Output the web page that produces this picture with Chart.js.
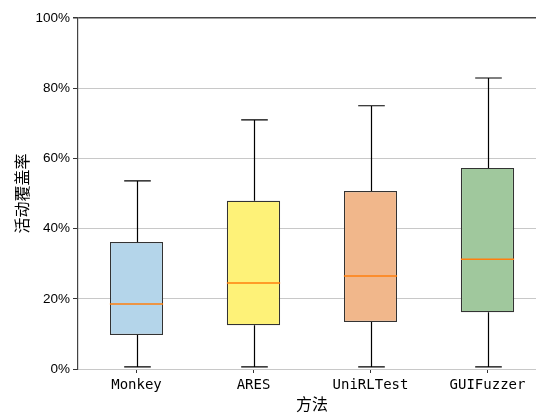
<!DOCTYPE html>
<html lang="zh">
    <head>
        <meta charset="UTF-8" />
        <title>活动覆盖率</title>
        <script src="https://cdn.jsdelivr.net/npm/chart.js"></script>
        <style>
            html, body { margin: 0; padding: 0; background: #fff; overflow: hidden; }
            #wrap { width: 548px; height: 414px; }
        </style>
    </head>
    <body>
        <div id="wrap"><canvas id="boxChart" width="548" height="414"></canvas></div>
        <script>
            // box plot values (percent)
            const methods = ["Monkey", "ARES", "UniRLTest", "GUIFuzzer"];
            const whiskerLow = [0.6, 0.6, 0.6, 0.6];
            const q1 = [9.7, 12.5, 13.4, 16.2];
            const medians = [18.5, 24.5, 26.5, 31.3];
            const q3 = [36.2, 47.9, 50.7, 57.3];
            const whiskerHigh = [53.6, 71.0, 75.0, 82.9];
            const yTicks = [0, 20, 40, 60, 80, 100];
            const boxColors = ["#b4d5ea", "#fef278", "#f1b78b", "#a0c89d"];

            // whiskers, caps and medians drawn on top of the floating bars
            const boxExtras = {
                id: "boxExtras",
                afterDatasetsDraw(chart) {
                    const ctx = chart.ctx;
                    const y = chart.scales.y;
                    const meta = chart.getDatasetMeta(0);
                    meta.data.forEach((bar, i) => {
                        const x = Math.round(bar.x) + 0.5;
                        const half = bar.width / 2;
                        const cap = bar.width / 4;
                        ctx.save();
                        ctx.strokeStyle = "#000";
                        ctx.lineWidth = 1.2;
                        ctx.beginPath();
                        ctx.moveTo(x, y.getPixelForValue(q3[i]));
                        ctx.lineTo(x, y.getPixelForValue(whiskerHigh[i]));
                        ctx.moveTo(x, y.getPixelForValue(q1[i]));
                        ctx.lineTo(x, y.getPixelForValue(whiskerLow[i]));
                        ctx.moveTo(x - cap, y.getPixelForValue(whiskerHigh[i]));
                        ctx.lineTo(x + cap, y.getPixelForValue(whiskerHigh[i]));
                        ctx.moveTo(x - cap, y.getPixelForValue(whiskerLow[i]));
                        ctx.lineTo(x + cap, y.getPixelForValue(whiskerLow[i]));
                        ctx.stroke();
                        ctx.strokeStyle = "#ff7f0e";
                        ctx.lineWidth = 1.5;
                        ctx.beginPath();
                        ctx.moveTo(bar.x - half, y.getPixelForValue(medians[i]));
                        ctx.lineTo(bar.x + half, y.getPixelForValue(medians[i]));
                        ctx.stroke();
                        ctx.restore();
                    });
                },
            };

            new Chart(document.getElementById("boxChart"), {
                type: "bar",
                data: {
                    labels: methods,
                    datasets: [
                        {
                            data: methods.map((m, i) => [q1[i], q3[i]]),
                            backgroundColor: boxColors,
                            borderColor: "#333",
                            borderWidth: 1.2,
                            borderSkipped: false,
                            categoryPercentage: 1,
                            barPercentage: 0.455,
                        },
                    ],
                },
                options: {
                    responsive: false,
                    animation: false,
                    layout: { padding: { left: 0, top: 18, right: 2, bottom: 0 } },
                    plugins: { legend: { display: false }, tooltip: { enabled: false } },
                    scales: {
                        x: {
                            grid: { display: true, drawOnChartArea: false, offset: false, tickLength: 4, tickColor: "#333" },
                            border: { display: false },
                            ticks: {
                                color: "#000",
                                padding: 4,
                                font: { family: "'DejaVu Sans Mono', monospace", size: 14 },
                            },
                            title: {
                                display: true,
                                text: "方法",
                                color: "#000",
                                padding: 0,
                                font: { family: "'Noto Sans CJK SC', sans-serif", size: 16 },
                            },
                            afterFit(scale) { scale.height = 45; },
                        },
                        y: {
                            min: 0,
                            max: 100,
                            afterBuildTicks(scale) { scale.ticks = yTicks.map((v) => ({ value: v })); },
                            grid: {
                                color: (c) => (c.tick && c.tick.value === 100 ? "#444" : "#c8c8c8"),
                                lineWidth: (c) => (c.tick && c.tick.value === 100 ? 1.5 : 1),
                                tickLength: 5,
                                tickColor: "#333",
                            },
                            border: { display: true, color: "#444", width: 1.2 },
                            ticks: {
                                color: "#000",
                                padding: 3,
                                callback: (v) => v + "%",
                                font: { family: "'Liberation Sans', Arial, sans-serif", size: 13.5 },
                            },
                            title: {
                                display: true,
                                text: "活动覆盖率",
                                color: "#000",
                                padding: { top: 12, bottom: 0 },
                                font: { family: "'Noto Sans CJK SC', sans-serif", size: 16 },
                            },
                            afterFit(scale) { scale.width = 78; },
                        },
                    },
                },
                plugins: [boxExtras],
            });
        </script>
    </body>
</html>
